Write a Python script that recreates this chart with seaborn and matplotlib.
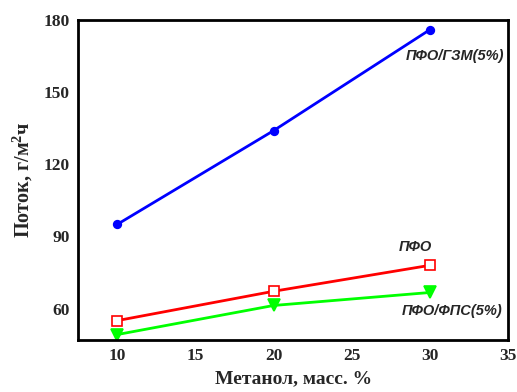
import matplotlib
matplotlib.use("Agg")
import matplotlib.pyplot as plt
from matplotlib.ticker import MultipleLocator
import seaborn as sns
import pandas as pd

# Methanol content, mass %
methanol = [10, 20, 30]
# Permeate flux, g/(m2*h)
flux_gzm = [95, 134, 176]
flux_pfo = [55, 67.2, 78]
flux_fps = [49.2, 61.3, 66.7]

series_names = ["ПФО/ГЗМ(5%)", "ПФО", "ПФО/ФПС(5%)"]

sns.set_theme(style="white")
plt.rcParams["font.family"] = ["Liberation Serif", "DejaVu Serif"]
plt.rcParams["mathtext.fontset"] = "custom"
plt.rcParams["mathtext.rm"] = "Liberation Serif:bold"
plt.rcParams["mathtext.bf"] = "Liberation Serif:bold"

df = pd.DataFrame({
    "x": methanol * 3,
    "y": flux_gzm + flux_pfo + flux_fps,
    "s": [series_names[0]] * 3 + [series_names[1]] * 3 + [series_names[2]] * 3,
})

fig = plt.figure(figsize=(5.17, 3.92), dpi=100)
ax = fig.add_axes([0.151, 0.133, 0.832, 0.816])

styles = {
    series_names[0]: dict(color="#0000ff", marker="o", markersize=5.5, mfc="#0000ff", mec="#0000ff"),
    series_names[1]: dict(color="#ff0000", marker="s", markersize=7, mfc="white", mec="#ff0000"),
    series_names[2]: dict(color="#00ff00", marker="v", markersize=8, mfc="#00ff00", mec="#00ff00"),
}
for name in series_names:
    st = styles[name]
    sns.lineplot(data=df[df["s"] == name], x="x", y="y", ax=ax, color=st["color"],
                 lw=2, marker=st["marker"], markersize=st["markersize"],
                 markerfacecolor=st["mfc"], markeredgecolor=st["mec"],
                 markeredgewidth=1.2, legend=False)

ax.set_xlim(7.5, 35)
ax.set_ylim(47, 180)
ax.xaxis.set_major_locator(MultipleLocator(5))
ax.xaxis.set_minor_locator(MultipleLocator(2.5))
ax.yaxis.set_major_locator(MultipleLocator(30))
ax.yaxis.set_minor_locator(MultipleLocator(15))
ax.tick_params(which="major", direction="in", length=5, width=1.5,
               labelsize=12.5, top=False, right=False, pad=6)
ax.tick_params(which="minor", direction="in", length=3, width=1.2, top=False, right=False)
for lab in ax.get_xticklabels() + ax.get_yticklabels():
    lab.set_fontweight("bold")
for sp in ax.spines.values():
    sp.set_linewidth(2)
    sp.set_color("black")

ax.set_xlabel("Метанол, масс. %", fontsize=14, fontweight="bold", labelpad=4)
ax.set_ylabel(r"Поток, г/м$^{2}$ч", fontsize=14.5, fontweight="bold", labelpad=6)

lab_font = dict(family=["Liberation Sans", "DejaVu Sans"], style="italic",
                fontweight="bold", fontsize=10.5, ha="center", va="center")
ax.text(31.6, 165, series_names[0], **lab_font)
ax.text(29.05, 85.8, series_names[1], **lab_font)
ax.text(31.4, 59.2, series_names[2], **lab_font)

fig.savefig("out.png", dpi=100)
